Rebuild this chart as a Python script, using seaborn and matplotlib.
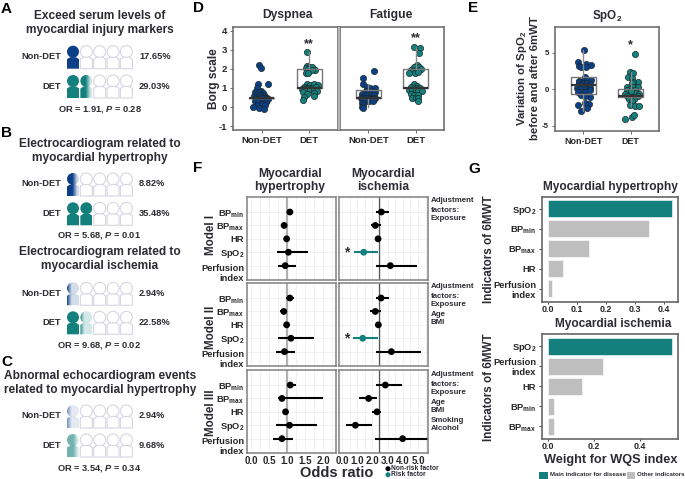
import matplotlib
matplotlib.use("Agg")
import matplotlib.pyplot as plt
import numpy as np
import seaborn as sns
from matplotlib.colors import to_rgb
from matplotlib.patches import PathPatch, Rectangle
from matplotlib.path import Path
from matplotlib.transforms import ScaledTranslation

W, H = 685, 479
BLUE = "#0b3f88"
TEAL = "#13807d"
GREY = "#bfbfbf"
INK = "#2b2b33"
FRAME = "#666666"

# panels A-C: share of patients
icon_titles = ["Exceed serum levels of\nmyocardial injury markers",
               "Electrocardiogram related to\nmyocardial hypertrophy",
               "Electrocardiogram related to\nmyocardial ischemia",
               "Abnormal echocardiogram events\nrelated to myocardial hypertrophy"]
non_det_pct = [17.65, 8.82, 2.94, 2.94]
det_pct = [29.03, 35.48, 22.58, 9.68]
or_values = ["1.91", "5.68", "9.68", "3.54"]
p_values = ["0.28", "0.01", "0.02", "0.34"]
icon_strength = [1.0, 1.0, 1.0, 0.6]

# panel D: Borg scale
dysp_non_dx = [-.06, -.01, .13, -.08, -.10, -.02, -.14, -.06, .02, -.12, -.04, .05, -.16, -.08, .0, .08, -.12,
               -.04, .04, .12, -.10, -.02, .06, .13, -.14, -.08, .02, .10, -.10, .0, .08, -.18, -.06, .04]
dysp_non_y = [2.2, 2.03, 1.19, 1.19, 1.02, .85, .8, .78, .75, .68, .65, .65, .6, .58, .55, .55, .5,
              .48, .48, .5, .4, .38, .35, .4, .3, .25, .3, .28, .12, .15, .1, .02, -.03, -.1]
dysp_det_dx = [-.05, -.05, .0, .06, .12, -.08, -.03, .05, -.07, -.03, -.05, .02, .1, .18, -.12, -.07, .0, .06,
               .13, -.16, -.1, -.04, .02, .09, .16, -.14, -.06, .1, -.12, .1, -.13]
dysp_det_y = [2.9, 2.17, 2.12, 2.12, 1.94, 2.03, 2.0, 1.95, 1.8, 1.78, 1.2, 1.17, 1.2, 1.18, 1.05, 1.0, 1.02, 1.0,
              1.03, .95, .92, .9, .92, .9, .85, .8, .7, .75, .54, .58, .37]
fat_non_dx = [.11, -.12, -.12, -.03, .03, .13, -.06, .0, .08, .14, -.14, -.08, -.02, .05, .11, -.15, -.09, -.03,
              .03, .09, .14, -.13, -.07, .0, .06, .12, -.12, -.05, .02, .09, -.13, -.11, -.13, -.12]
fat_non_y = [1.9, 1.5, 1.19, 1.03, .98, .98, .85, .85, .85, .8, .7, .65, .65, .62, .65, .5, .5, .5,
             .48, .5, .5, .4, .38, .38, .4, .4, .3, .3, .3, .32, .22, .1, .02, -.07]
fat_det_dx = [-.04, .1, .08, .03, -.03, .08, .12, -.1, -.06, .01, -.01, .06, -.14, -.04, .02, -.1, -.04, .03, .1,
              -.14, -.08, .0, .06, .13, -.1, -.03, .04, -.07, .0, .06, .06]
fat_det_y = [3.16, 3.07, 2.81, 2.18, 2.1, 2.08, 2.0, 1.95, 1.9, 1.95, 1.8, 1.85, 1.8, 1.19, 1.12, 1.05, 1.0, 1.0, 1.0,
             .9, .9, .9, .85, .85, .7, .65, .65, .5, .5, .45, .31]
# panel E: variation of SpO2
spo2_non_dx = [.01, -.11, -.09, -.04, .05, .17, .05, .03, -.09, .0, .08, .17, -.09, -.1, -.02, .08, .15, -.05,
               .1, -.13, -.08, .05, .15, .13, -.11, .03, -.04, .13, .03, .03, .12, -.11, .08, -.06]
spo2_non_y = [5.34, 3.74, 3.15, 3.0, 3.4, 3.29, 3.0, 1.69, 1.14, 1.1, 1.3, 1.3, .87, .9, .85, .8, .75, .55,
              .45, .1, 0, -.05, .1, -.15, -.35, -.4, -.8, -1.05, -.9, -1.9, -2.0, -2.2, -2.65, -2.97]
spo2_det_dx = [.1, -.02, .05, -.05, .03, .16, .05, .02, -.07, .05, .16, -.02, -.07, .1, -.12, .0, .1, .17,
               -.07, .05, .16, -.03, .07, .02, -.02, .09, .17, -.12, .02, .08, .0]
spo2_det_y = [4.75, 2.37, 2.15, 1.69, 1.46, 1.0, 1.0, .78, .32, .3, .23, -.05, -.14, -.2, -.68, -.6, -.6, -.7,
              -.96, -1.05, -.95, -1.4, -1.4, -1.7, -2.2, -2.33, -2.33, -4.15, -3.8, -3.6, -.3]
# box statistics: q1, median, q3, lower whisker, upper whisker
dysp_box = [[.5, .5, .5, .5, .5], [1.0, 1.0, 2.0, 1.0, 2.9]]
fat_box = [[.5, .5, .89, 0, 1.2], [1.0, 1.0, 2.0, 1.0, 3.16]]
spo2_box = [[-.73, .5, 1.69, -3.0, 5.34], [-1.05, -.96, 0, -2.3, 2.4]]

# panel F: odds ratios, one row per model
f_labels = ["BP$_{min}$", "BP$_{max}$", "HR", "SpO$_{2}$", "Perfusion\nindex"]
hyper_or = [[1.08, .92, .99, 1.04, .95], [1.08, .91, .99, 1.11, .93], [1.09, .86, .96, 1.07, .86]]
hyper_lo = [[1.02, .83, .93, .72, .74], [.98, .81, .93, .75, .69], [1.01, .74, .90, .69, .62]]
hyper_hi = [[1.16, 1.0, 1.06, 1.57, 1.24], [1.19, 1.0, 1.06, 1.76, 1.22], [1.24, 1.99, 1.04, 1.82, 1.16]]
isch_or = [[2.59, 2.19, 2.37, 1.43, 3.18], [2.57, 2.19, 2.39, 1.36, 3.25], [2.85, 1.75, 2.30, .88, 3.99]]
isch_lo = [[2.26, 1.89, 2.21, .79, 2.26], [2.21, 1.84, 2.24, .72, 2.26], [2.26, 1.14, 2.0, .26, 2.17]]
isch_hi = [[3.07, 2.54, 2.52, 2.37, 4.93], [3.07, 2.54, 2.57, 2.35, 5.22], [3.97, 2.30, 2.54, 1.97, 5.68]]
isch_risk = [[0, 0, 0, 1, 0], [0, 0, 0, 1, 0], [0, 0, 0, 0, 0]]
model_names = ["Model I", "Model II", "Model III"]
adjustments = ["Adjustment\nfactors:\nExposure",
               "Adjustment\nfactors:\nExposure\nAge\nBMI",
               "Adjustment\nfactors:\nExposure\nAge\nBMI\nSmoking\nAlcohol"]

# panel G: WQS weights
hyper_names = ["SpO$_{2}$", "BP$_{min}$", "BP$_{max}$", "HR", "Perfusion\nindex"]
hyper_weights = [.43, .348, .143, .053, .016]
isch_names = ["SpO$_{2}$", "Perfusion\nindex", "HR", "BP$_{min}$", "BP$_{max}$"]
isch_weights = [.54, .237, .149, .027, .026]

sns.set_theme(style="white")
plt.rcParams['font.family'] = ['Liberation Sans', 'DejaVu Sans']
plt.rcParams['font.weight'] = 'bold'
plt.rcParams['text.color'] = INK
plt.rcParams['axes.unicode_minus'] = False
plt.rcParams['mathtext.fontset'] = 'custom'
plt.rcParams['mathtext.bf'] = 'Liberation Sans:bold'
plt.rcParams['mathtext.rm'] = 'Liberation Sans:bold'
plt.rcParams['mathtext.it'] = 'Liberation Sans:italic:bold'
plt.rcParams['mathtext.default'] = 'bf'

fig = plt.figure(figsize=(W / 100, H / 100), dpi=100)


def px_axes(left, top, right, bottom):
    return fig.add_axes([left / W, 1 - bottom / H, (right - left) / W, (bottom - top) / H])


# overlay in pixel coordinates for the free text and the icon rows
page = fig.add_axes([0, 0, 1, 1], zorder=5)
page.set_xlim(0, W)
page.set_ylim(H, 0)
page.axis("off")
page.patch.set_alpha(0)


def label(x, y, txt, size=7, ha="center", va="center", **kw):
    page.text(x, y, txt, fontsize=size, ha=ha, va=va, fontweight="bold", **kw)


def person(x, y):
    head = Path.circle((x, y), 6.0)
    body = Path([(x - 6, y + 17), (x - 6, y + 7.5), (x - 3, y + 5.5), (x + 3, y + 5.5), (x + 6, y + 7.5), (x + 6, y + 17),
                 (x - 6, y + 17)],
                [Path.MOVETO, Path.LINETO, Path.LINETO, Path.LINETO, Path.LINETO, Path.LINETO, Path.CLOSEPOLY])
    return head, body


def icon_row(y, pct, color, strength):
    rgb = to_rgb(color)
    for i in range(5):
        x = 73 + 13.35 * i
        head, body = person(x, y)
        frac = np.clip(pct / 20 - i, 0, 1)
        if frac == 0:
            for part in (head, body):
                page.add_patch(PathPatch(part, facecolor="white", edgecolor="#d5d6e2", lw=0.8))
            continue
        ramp = np.linspace(0, 1, 60)
        alpha = np.clip((frac * 1.6 + 0.25 - ramp) / 0.5, 0.18, 1) * strength
        if frac == 1:
            alpha = np.ones(60)
        img = np.ones((1, 60, 4))
        img[..., :3] = rgb
        img[0, :, 3] = alpha
        for part in (body, head):
            clip = PathPatch(part, transform=page.transData, facecolor="none", edgecolor="none")
            page.add_patch(clip)
            im = page.imshow(img, extent=(x - 6, x + 6, y + 18, y - 7), aspect="auto", interpolation="bilinear", zorder=2)
            im.set_clip_path(clip)
    page.set_xlim(0, W)
    page.set_ylim(H, 0)


title_y = [23, 151, 259, 383]
head_y = [(51.7, 81), (179, 208.3), (288.3, 317.3), (411, 440)]
or_y = [109, 235.7, 345.7, 469]
for k in range(4):
    label(100, title_y[k], icon_titles[k], size=8.6, linespacing=1.12)
    for row, (pct, name, color) in enumerate(zip((non_det_pct[k], det_pct[k]), ("Non-DET", "DET"), (BLUE, TEAL))):
        y = head_y[k][row]
        icon_row(y, pct, color, icon_strength[k])
        label(61.5, y + 5, name, size=6.7, ha="right")
        label(139, y + 5, f"{pct:.2f}%", size=6.7, ha="left")
    label(99.5, or_y[k], f"OR = {or_values[k]}, $\\mathit{{P}}$ = {p_values[k]}", size=6.7)


def style_frame(ax, lw=1.1, color=FRAME):
    for s in ax.spines.values():
        s.set_visible(True)
        s.set_color(color)
        s.set_linewidth(lw)


def beeswarm(ax, groups, boxes):
    colors = [BLUE, TEAL]
    for pos, (dx, y) in enumerate(groups):
        sns.scatterplot(x=pos + np.array(dx), y=y, color=colors[pos], edgecolor="#1a2a2a", linewidth=0.5, s=20,
                        ax=ax, zorder=2, legend=False)
    stats = [dict(q1=b[0], med=b[1], q3=b[2], whislo=b[3], whishi=b[4]) for b in boxes]
    ax.bxp(stats, positions=[0, 1], widths=0.52, showfliers=False, showcaps=False, manage_ticks=False, zorder=3,
           boxprops=dict(color="#777777", lw=1.0), whiskerprops=dict(color="#8a8a8a", lw=1.0),
           medianprops=dict(color="#333333", lw=1.6))
    ax.set_xlim(-0.6, 1.6)
    ax.set_xticks([0, 1], ["Non-DET", "DET"], fontsize=6.8, fontweight="bold")
    style_frame(ax)
    ax.tick_params(length=2, width=0.6, pad=2.5, color="#555555", bottom=True, left=True)


# panel D
ax_dysp = px_axes(233, 27, 338, 130)
beeswarm(ax_dysp, [(dysp_non_dx, dysp_non_y), (dysp_det_dx, dysp_det_y)], dysp_box)
ax_dysp.set_ylim(-1.2, 4.19)
ax_dysp.set_yticks([-1, 0, 1, 2, 3, 4], ["-1", "0", "1", "2", "3", "4"], fontsize=6.8, fontweight="bold")
ax_fat = px_axes(340, 27, 444, 130)
beeswarm(ax_fat, [(fat_non_dx, fat_non_y), (fat_det_dx, fat_det_y)], fat_box)
ax_fat.set_ylim(-1.2, 4.19)
ax_fat.set_yticks([])
page.add_patch(Rectangle((338, 27), 2, 103, facecolor="#b5b5b5", edgecolor="none"))
label(288, 15, "Dyspnea", size=8.7)
label(390.5, 15, "Fatigue", size=8.7)
label(214, 79, "Borg scale", size=8.6, rotation=90)
label(309, 44, "**", size=9)
label(416, 38, "**", size=9)

# panel E
ax_spo2 = px_axes(555, 27, 659, 131)
beeswarm(ax_spo2, [(spo2_non_dx, spo2_non_y), (spo2_det_dx, spo2_det_y)], spo2_box)
ax_spo2.set_ylim(-5.75, 8.5)
ax_spo2.set_yticks([-5, 0, 5], ["-5", "0", "5"], fontsize=5.6, fontweight="bold")
ax_spo2.tick_params(axis="x", labelsize=6.4)
label(607, 16, "SpO$_{2}$", size=8.4)
label(527.5, 78, "Variation of SpO$_{2}$\nbefore and after 6mWT", size=8.2, rotation=90, linespacing=1.05)
label(630.7, 45, "*", size=9)


# panel F
def forest(ax, means, lows, highs, ref, flags=None):
    flags = flags or [0] * 5
    rows = np.arange(5)
    ax.grid(True, which="both", color="#efefef", lw=0.6)
    ax.axvline(ref[0], color=ref[1], lw=ref[2], zorder=1)
    colors = [TEAL if f else "black" for f in flags]
    ax.hlines(rows, lows, highs, colors=colors, lw=1.5, zorder=2)
    sns.scatterplot(x=means, y=rows, hue=rows, palette=colors, s=24, edgecolor="none", legend=False, ax=ax, zorder=3)
    ax.set_yticks(rows)
    ax.set_ylim(5.07, -1.12)
    ax.set_ylabel("")
    style_frame(ax, lw=1.1, color="#808080")
    ax.tick_params(length=0)


row_px = [(197, 280), (283, 366), (370, 453)]
ann_top = [200, 286, 374]
model_y = [235, 327, 413]
for r, (top, bottom) in enumerate(row_px):
    ax1 = px_axes(247, top, 336, bottom)
    ax2 = px_axes(339, top, 428, bottom)
    forest(ax1, hyper_or[r], hyper_lo[r], hyper_hi[r], (1.0, "#b0b0b0", 1.6))
    forest(ax2, isch_or[r], isch_lo[r], isch_hi[r], (2.46, "#555555", 0.9), isch_risk[r])
    ax1.set_xlim(-0.11, 2.36)
    ax2.set_xlim(-0.2, 5.66)
    ax1.set_xticks(np.arange(0, 2.1, .5))
    ax1.set_xticks(np.arange(.25, 2.3, .5), minor=True)
    ax2.set_xticks(np.arange(0, 5.1, 1))
    ax2.set_xticks(np.arange(.5, 5.6, 1), minor=True)
    ax1.set_yticklabels(f_labels, fontsize=6.7, fontweight="bold", ha="right", linespacing=1.15)
    ax1.tick_params(axis="y", pad=2)
    perf = ax1.get_yticklabels()[-1]
    perf.set_transform(perf.get_transform() + ScaledTranslation(0, -6.7 / 100, fig.dpi_scale_trans))
    ax2.set_yticklabels([])
    if r == 2:
        ax1.set_xticklabels(["0.0", "0.5", "1.0", "1.5", "2.0"], fontsize=7, fontweight="bold")
        ax2.set_xticklabels(["0.0", "1.0", "2.0", "3.0", "4.0", "5.0"], fontsize=7, fontweight="bold")
        ax1.tick_params(axis="x", pad=2)
        ax2.tick_params(axis="x", pad=2)
    else:
        ax1.set_xticklabels([])
        ax2.set_xticklabels([])
    for j, line in enumerate(adjustments[r].split("\n")):
        label(431, ann_top[r] + 9 * j, line, size=5.7, ha="left", va="center_baseline")
    label(211, model_y[r], model_names[r], size=8.4, rotation=90)
label(347, 252, "*", size=10)
label(347, 338, "*", size=10)
label(290, 180.5, "Myocardial\nhypertrophy", size=8.7, linespacing=1.2)
label(382.7, 180.5, "Myocardial\nischemia", size=8.7, linespacing=1.2)
label(336.7, 473, "Odds ratio", size=10.5)
page.scatter([388, 388], [468.7, 474.7], c=["black", TEAL], s=13, linewidths=0)
label(391.5, 468.7, "Non-risk factor", size=4.8, ha="left")
label(391.5, 474.7, "Risk factor", size=4.8, ha="left")


# panel G
def weights(ax, names, values, xlim, ticks):
    sns.barplot(x=values, y=names, hue=names, palette=[TEAL] + [GREY] * 4, width=0.85, legend=False, ax=ax,
                edgecolor="white", linewidth=0.4, saturation=1)
    ax.set_xlim(*xlim)
    ax.set_ylim(4.65, -0.6)
    ax.set_xticks(ticks, [f"{t:.1f}" for t in ticks], fontsize=6.4, fontweight="bold")
    ax.tick_params(axis="y", labelsize=6.7, length=2, width=0.6, left=True, pad=2)
    ax.tick_params(axis="x", length=1.5, width=0.6, bottom=True, pad=0.5)
    for t in ax.get_yticklabels():
        t.set_fontweight("bold")
        t.set_linespacing(1.1)
    style_frame(ax, lw=1.2)


ax_g1 = px_axes(541.7, 197, 678, 302)
weights(ax_g1, hyper_names, hyper_weights, (-.02, .449), [0, .1, .2, .3, .4])
ax_g2 = px_axes(541.7, 334, 678, 439)
weights(ax_g2, isch_names, isch_weights, (-.027, .564), [0, .2, .4])
label(610, 186.7, "Myocardial hypertrophy", size=8.6)
label(612.7, 324, "Myocardial ischemia", size=8.6)
label(489, 248.7, "Indicators of 6MWT", size=8.4, rotation=90)
label(489, 387.5, "Indicators of 6MWT", size=8.4, rotation=90)
label(610.7, 459.5, "Weight for WQS index", size=9.2)
page.add_patch(Rectangle((539, 471.5), 9, 7, facecolor=TEAL, edgecolor="none"))
page.add_patch(Rectangle((627, 471.5), 8, 7, facecolor=GREY, edgecolor="none"))
label(550, 475, "Main indicator for disease", size=4.4, ha="left")
label(637.5, 475, "Other indicators", size=4.4, ha="left")

# panel letters
for txt, x, y in [("A", 1, 9), ("B", 1, 133), ("C", 1, 362), ("D", 193, 8), ("F", 193, 168), ("E", 468, 8), ("G", 468, 169)]:
    label(x, y, txt, size=11, ha="left", color="black")

fig.savefig("out.png", dpi=100)
